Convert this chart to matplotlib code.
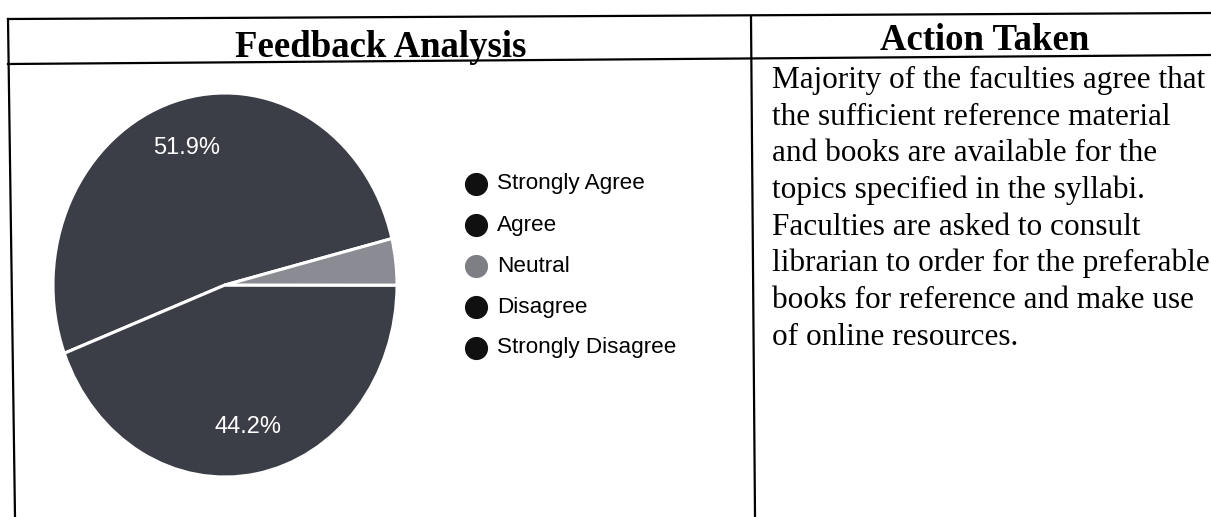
import matplotlib
matplotlib.use('Agg')
import matplotlib.pyplot as plt

# feedback data
categories = ['Strongly Agree', 'Agree', 'Neutral', 'Disagree', 'Strongly Disagree']
percent = [51.9, 44.2, 3.9, 0.0, 0.0]
pie_colors = ['#3c3e47', '#3c3e47', '#8b8b93', '#3c3e47', '#3c3e47']
legend_colors = ['#101010', '#101010', '#7e7e85', '#101010', '#101010']

header_left = 'Feedback Analysis'
header_right = 'Action Taken'
action_lines = [
    'Majority of the faculties agree that',
    'the sufficient reference material',
    'and books are available for the',
    'topics specified in the syllabi.',
    'Faculties are asked to consult',
    'librarian to order for the preferable',
    'books for reference and make use',
    'of online resources.',
]

W, H = 1211, 517
fig = plt.figure(figsize=(W / 100, H / 100), dpi=100)
fig.patch.set_facecolor('white')

# page axes in pixel coords
bg = fig.add_axes([0, 0, 1, 1])
bg.set_xlim(0, W)
bg.set_ylim(H, 0)
bg.axis('off')

# table lines (scan is slightly tilted)
lw = 1.6
bg.plot([8, W], [19, 13], color='black', lw=lw)
bg.plot([8, W], [64, 55], color='black', lw=lw)
bg.plot([8, 15], [19, H], color='black', lw=lw)
bg.plot([751, 755], [17, H], color='black', lw=lw)

serif = 'Liberation Serif'
sans = 'Liberation Sans'
bg.text(381, 57, header_left, ha='center', va='baseline', fontsize=26.5,
        fontweight='bold', family=serif)
bg.text(985, 50, header_right, ha='center', va='baseline', fontsize=26.5,
        fontweight='bold', family=serif)

for i, line in enumerate(action_lines):
    bg.text(772, 88 + 36.7 * i, line, ha='left', va='baseline',
            fontsize=22.5, family=serif)

# legend
for i, (lab, col) in enumerate(zip(categories, legend_colors)):
    y = 184 + 41 * i
    bg.scatter([476], [y], s=245, color=col, zorder=3)
    bg.text(497, y, lab, ha='left', va='center', fontsize=16.2, family=sans)

# pie (elliptical, as in the scan)
cx, cy, rx, ry = 225, 285, 172, 192
pax = fig.add_axes([(cx - rx) / W, (H - cy - ry) / H, 2 * rx / W, 2 * ry / H])
vals = [v for v in percent if v > 0]
cols = [c for v, c in zip(percent, pie_colors) if v > 0]
wedges, texts, autotexts = pax.pie(
    vals, colors=cols, startangle=14, counterclock=True,
    autopct=lambda p: f'{p:.1f}%' if p > 10 else '', pctdistance=0.75,
    wedgeprops=dict(edgecolor='white', linewidth=2.2),
    textprops=dict(color='white', fontsize=17, family=sans))
pax.set_aspect('auto')
pax.set_xlim(-1, 1)
pax.set_ylim(-1, 1)
pax.axis('off')

fig.savefig('out.png', dpi=100, facecolor='white')
